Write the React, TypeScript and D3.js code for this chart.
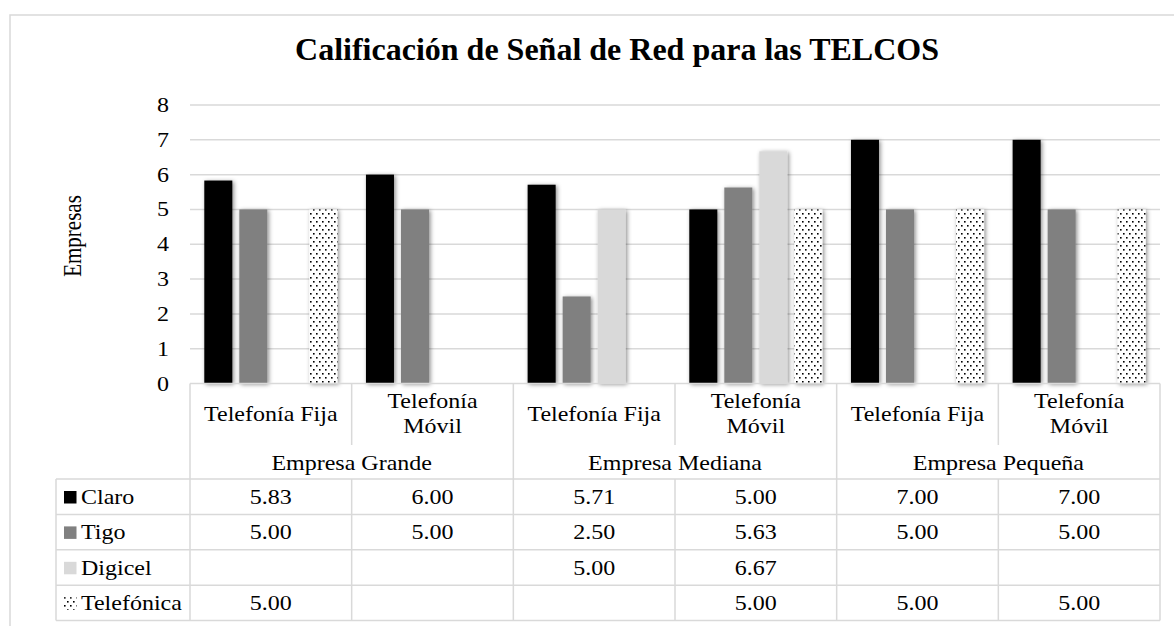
import React from "react";
import * as d3 from "d3";

const title = "Calificación de Señal de Red para las TELCOS";
const yAxisTitle = "Empresas";
const categories = ["Telefonía Fija", "Telefonía Móvil", "Telefonía Fija", "Telefonía Móvil", "Telefonía Fija", "Telefonía Móvil"];
const categoryLines = [["Telefonía Fija"], ["Telefonía", "Móvil"], ["Telefonía Fija"], ["Telefonía", "Móvil"], ["Telefonía Fija"], ["Telefonía", "Móvil"]];
const groups = ["Empresa Grande", "Empresa Mediana", "Empresa Pequeña"];
const seriesNames = ["Claro", "Tigo", "Digicel", "Telefónica"];
const claro = [5.83, 6.0, 5.71, 5.0, 7.0, 7.0];
const tigo = [5.0, 5.0, 2.5, 5.63, 5.0, 5.0];
const digicel = [null, null, 5.0, 6.67, null, null];
const telefonica = [5.0, null, null, 5.0, 5.0, 5.0];
const yTicks = [0, 1, 2, 3, 4, 5, 6, 7, 8];

const seriesValues: (number | null)[][] = [claro, tigo, digicel, telefonica];
const seriesFill = ["#000000", "#808080", "#d9d9d9", "url(#dots)"];

const K = 1.2;
const FONT = "'Liberation Serif', 'Times New Roman', serif";
const GRID = "#d9d9d9";

function T(props: { x: number; y: number; anchor?: string; size?: number; weight?: string; children: React.ReactNode; rotate?: boolean; k?: number }) {
  const { x, y, anchor = "middle", size = 20, weight = "normal", children, rotate, k = K } = props;
  return (
    <text
      transform={`translate(${x},${y}) scale(${k},1)${rotate ? " rotate(-90)" : ""}`}
      textAnchor={anchor as any}
      fontSize={size}
      fontWeight={weight}
      fontFamily={FONT}
      fill="#000"
    >
      {children}
    </text>
  );
}

export default function App() {
  const W = 1174, H = 626;
  const left = 190, right = 1160, top = 105, base = 383.5;
  const idx = categories.map((_, i) => String(i));
  const x = d3.scaleBand<string>().domain(idx).range([left, right]);
  const colW = x.bandwidth();
  const pad = 14.3;
  const xs = d3.scaleBand<string>().domain(seriesNames).range([pad, colW - pad]).paddingInner(0.2);
  const y = d3.scaleLinear().domain([0, 8]).range([base, top]);

  const headTop = 383.5, headBot = 445, groupBot = 479;
  const rowH = 35.4;
  const legendLeft = 56;
  const tableBottom = groupBot + rowH * 4;

  const colEdges = idx.map((i) => x(i)!).concat([right]);

  return (
    <svg width={W} height={H} style={{ position: "absolute", left: 0, top: 0, background: "#fff" }}>
      <defs>
        <pattern id="dots" width="6" height="8" patternUnits="userSpaceOnUse">
          <rect width="6" height="8" fill="#fff" />
          <rect x="1" y="1" width="1.6" height="1.6" fill="#000" />
          <rect x="4" y="5" width="1.6" height="1.6" fill="#000" />
        </pattern>
        <filter id="shadow" x="-30%" y="-10%" width="160%" height="120%">
          <feDropShadow dx="1.5" dy="1" stdDeviation="2" floodColor="#000" floodOpacity="0.45" />
        </filter>
      </defs>
      <rect x={10} y={15} width={W + 20} height={H + 20} fill="#fff" stroke={GRID} strokeWidth={1.5} />

      <T x={617} y={60} size={32} weight="bold" k={1}>{title}</T>

      {yTicks.map((t) => (
        <g key={t}>
          {t > 0 && <line x1={left} x2={right} y1={y(t)} y2={y(t)} stroke={GRID} strokeWidth={1.5} />}
          <T x={169} y={y(t) + 7} anchor="end">{t}</T>
        </g>
      ))}

      <T x={81} y={236} rotate size={21}>{yAxisTitle}</T>

      {seriesValues.map((vals, si) =>
        vals.map((v, ci) =>
          v == null ? null : (
            <rect
              key={`${si}-${ci}`}
              x={x(String(ci))! + xs(seriesNames[si])!}
              y={y(v)}
              width={xs.bandwidth()}
              height={base - y(v)}
              fill={seriesFill[si]}
              filter="url(#shadow)"
            />
          )
        )
      )}

      {/* table lines */}
      <line x1={left} x2={right} y1={headTop} y2={headTop} stroke={GRID} strokeWidth={1.5} />
      {colEdges.map((cx, i) => (
        <line key={`v${i}`} x1={cx} x2={cx} y1={headTop} y2={i % 2 === 0 ? tableBottom : headBot} stroke={GRID} strokeWidth={1.5} />
      ))}
      {colEdges.map((cx, i) =>
        i % 2 === 1 ? <line key={`vd${i}`} x1={cx} x2={cx} y1={groupBot} y2={tableBottom} stroke={GRID} strokeWidth={1.5} /> : null
      )}
      <line x1={legendLeft} x2={legendLeft} y1={groupBot} y2={tableBottom} stroke={GRID} strokeWidth={1.5} />
      {[0, 1, 2, 3, 4].map((r) => (
        <line key={`h${r}`} x1={legendLeft} x2={right} y1={groupBot + r * rowH} y2={groupBot + r * rowH} stroke={GRID} strokeWidth={1.5} />
      ))}

      {categoryLines.map((lines, ci) => {
        const cx = x(String(ci))! + colW / 2;
        if (lines.length === 1) return <T key={`c${ci}`} x={cx} y={421}>{lines[0]}</T>;
        return (
          <g key={`c${ci}`}>
            <T x={cx} y={408}>{lines[0]}</T>
            <T x={cx} y={433}>{lines[1]}</T>
          </g>
        );
      })}
      {groups.map((g, gi) => (
        <T key={`g${gi}`} x={(colEdges[gi * 2] + colEdges[gi * 2 + 2]) / 2} y={470}>{g}</T>
      ))}

      {seriesNames.map((s, si) => {
        const ry = groupBot + si * rowH;
        return (
          <g key={`r${si}`}>
            <rect x={64} y={ry + 12} width={12.5} height={12.5} fill={si === 3 ? "url(#dots)" : seriesFill[si]} />
            <T x={81} y={ry + 25} anchor="start">{s}</T>
            {seriesValues[si].map((v, ci) =>
              v == null ? null : (
                <T key={ci} x={x(String(ci))! + colW / 2} y={ry + 25}>{v.toFixed(2)}</T>
              )
            )}
          </g>
        );
      })}
    </svg>
  );
}
